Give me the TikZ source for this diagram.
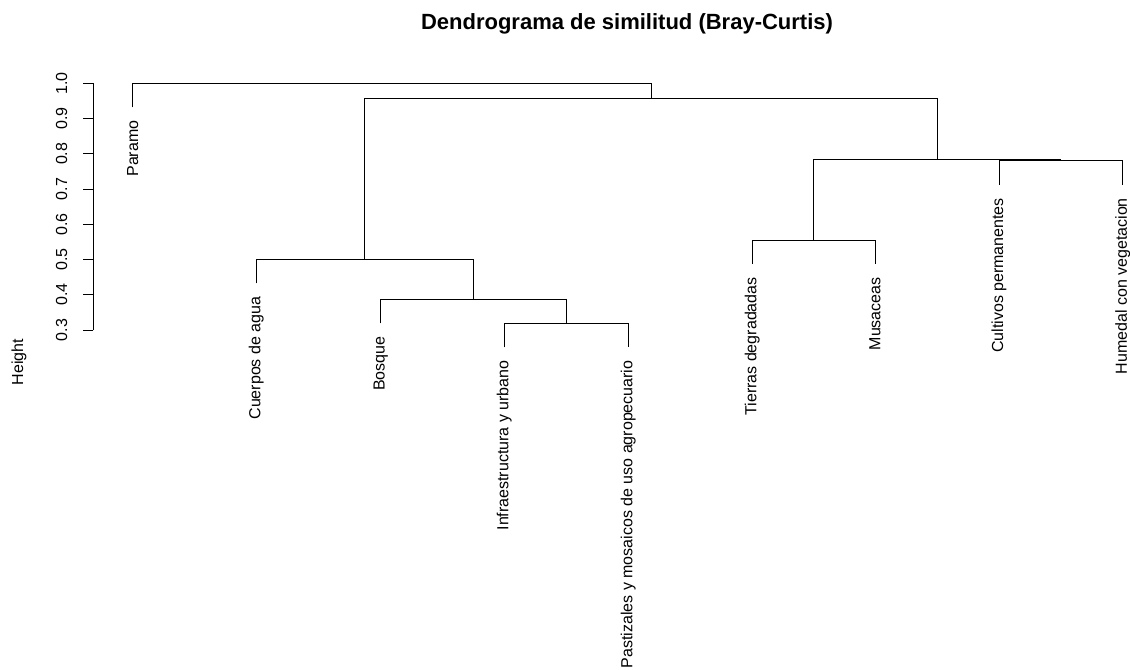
\documentclass[tikz,border=0pt]{standalone}
\usepackage{fontspec}
\setmainfont{Liberation Sans}
\usetikzlibrary{calc,positioning}

\begin{document}
\begin{tikzpicture}[
    x=0.75pt, y=0.75pt,
    % altura -> coordenada vertical
    declare function={hy(\h)=-330+(\h-0.3)*352.4;},
    branch/.style={line width=0.75pt, black},
    leaf label/.style={rotate=90, anchor=east, inner sep=0pt, font=\fontsize{12}{14}\selectfont},
    tick label/.style={rotate=90, inner sep=0pt, font=\fontsize{12}{14}\selectfont}
]
    \useasboundingbox (0,0) rectangle (1130,-670);

    % --- titulo ---
    \node[anchor=base, inner sep=0pt, font=\fontsize{16.5}{19}\selectfont\bfseries] (title) at (627,-30) {Dendrograma de similitud (Bray-Curtis)};

    % --- eje vertical ---
    \coordinate (ax-lo) at (93,{hy(0.3)});
    \coordinate (ax-hi) at (93,{hy(1.0)});
    \draw[branch] (ax-lo) -- (ax-hi);
    \foreach \t in {0.3,0.4,0.5,0.6,0.7,0.8,0.9,1.0} {
        \draw[branch] (93,{hy(\t)}) -- (83.3,{hy(\t)});
        \node[tick label] at (61.5,{hy(\t)}) {\t};
    }
    \node[tick label] (ylab) at (19,-362) {Height};

    % --- hojas: extremo inferior y etiqueta ---
    \foreach \name/\x/\h/\txt in {
        par/132.7/0.932/Paramo,
        cue/256.3/0.432/Cuerpos de agua,
        bos/380.7/0.319/Bosque,
        inf/504.3/0.251/Infraestructura y urbano,
        pas/628.3/0.251/Pastizales y mosaicos de uso agropecuario,
        tie/752.3/0.487/Tierras degradadas,
        mus/875.0/0.487/Musaceas,
        cul/999.0/0.712/Cultivos permanentes,
        hum/1122.7/0.712/Humedal con vegetacion} {
        \coordinate (\name-e) at (\x,{hy(\h)});
        \node[leaf label] (\name) at ($(\name-e)+(0,-13)$) {\txt};
    }

    % --- nodos de fusion ---
    \coordinate (mIP) at (566.3,{hy(0.319)});
    \coordinate (mS)  at (473.5,{hy(0.387)});
    \coordinate (mL)  at (364.9,{hy(0.500)});
    \coordinate (mTM) at (813.7,{hy(0.555)});
    \coordinate (mCH) at (1060.85,{hy(0.780)});
    \coordinate (mR)  at (937.3,{hy(0.785)});
    \coordinate (mA)  at (651.1,{hy(0.9575)});
    \coordinate (m0)  at (391.9,{hy(1.0)});

    % --- ramas ---
    \draw[branch] (inf-e) |- (mIP) -| (pas-e);
    \draw[branch] (bos-e) |- (mS) -| (mIP);
    \draw[branch] (cue-e) |- (mL) -| (mS);
    \draw[branch] (tie-e) |- (mTM) -| (mus-e);
    \draw[branch] (cul-e) |- (mCH) -| (hum-e);
    \draw[branch] (mTM) |- (mR) -| (mCH);
    \draw[branch] (mL) |- (mA) -| (mR);
    \draw[branch] (par-e) |- (m0) -| (mA);

\end{tikzpicture}
\end{document}
